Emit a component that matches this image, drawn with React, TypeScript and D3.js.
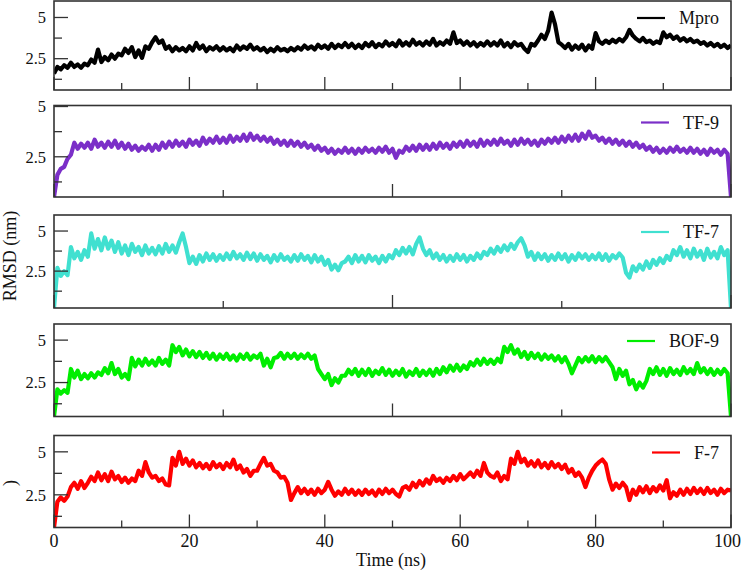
import React from "react";
import * as d3 from "d3";

// ---- data (RMSD, sampled every 0.5 ns from 0 to 100 ns) ----
const TIME_START = 0;
const TIME_END = 100;
const TIME_STEP = 0.5;

const SERIES_NAMES = ["Mpro", "TF-9", "TF-7", "BOF-9", "F-7"];
const SERIES_COLORS = ["#000000", "#7b2fc8", "#40e0d0", "#00ee00", "#ff0000"];

const MPRO = [
  1.6, 2.0, 1.85, 2.1, 1.95, 2.25, 2.0, 2.15, 1.95, 2.2,
  2.1, 2.45, 2.25, 3.05, 2.3, 2.6, 2.4, 2.75, 2.5, 2.8,
  2.7, 3.1, 2.85, 3.2, 2.6, 3.0, 2.55, 3.25, 3.1, 3.5,
  3.8, 3.45, 3.6, 3.1, 3.25, 2.95, 3.2, 3.0, 3.15, 2.95,
  3.25, 3.0, 3.45, 3.1, 3.3, 2.95, 3.2, 3.05, 3.25, 3.0,
  3.2, 3.0, 3.15, 2.95, 3.3, 3.05, 3.25, 3.1, 3.35, 3.05,
  3.2, 3.0, 3.15, 2.9, 3.1, 2.95, 3.2, 3.0, 3.1, 2.95,
  3.15, 3.0, 3.2, 3.05, 3.3, 3.1, 3.25, 3.05, 3.35, 3.15,
  3.3, 3.1, 3.4, 3.15, 3.35, 3.2, 3.45, 3.2, 3.4, 3.15,
  3.35, 3.15, 3.45, 3.25, 3.5, 3.2, 3.4, 3.25, 3.55, 3.3,
  3.45, 3.25, 3.6, 3.3, 3.5, 3.3, 3.65, 3.35, 3.5, 3.3,
  3.55, 3.35, 3.7, 3.3, 3.5, 3.35, 3.6, 3.4, 4.1, 3.45,
  3.6, 3.35, 3.55, 3.3, 3.5, 3.25, 3.45, 3.3, 3.55, 3.3,
  3.5, 3.3, 3.6, 3.25, 3.45, 3.2, 3.5, 3.3, 3.4, 3.1,
  2.9, 3.4, 3.3, 3.6, 3.95, 3.7, 4.2, 5.3, 4.6, 3.5,
  3.35, 3.15, 3.4, 3.05, 3.3, 3.1, 3.35, 3.0, 3.3, 3.1,
  4.05, 3.55, 3.4, 3.6, 3.45, 3.65, 3.5, 3.7, 3.55, 3.8,
  4.25, 3.9, 3.7, 3.55, 3.75, 3.5, 3.6, 3.4, 3.55, 3.45,
  4.1, 3.8, 3.95, 3.7, 3.85, 3.6, 3.75, 3.55, 3.7, 3.5,
  3.6, 3.4, 3.5, 3.3, 3.45, 3.25, 3.4, 3.2, 3.35, 3.15,
  3.3,
];

const TF9 = [
  0.5, 1.6, 1.9, 2.0, 2.4, 2.6, 3.2, 2.9, 3.15, 2.95,
  3.2, 2.9, 3.35, 3.0, 3.2, 2.95, 3.25, 3.0, 3.3, 2.95,
  3.2, 2.9, 3.15, 2.85, 3.05, 2.8, 3.0, 2.85, 3.1, 2.8,
  3.1, 2.85, 3.2, 2.95, 3.25, 3.0, 3.3, 3.05, 3.25, 3.0,
  3.35, 3.1, 3.3, 3.05, 3.45, 3.15, 3.4, 3.2, 3.5, 3.2,
  3.45, 3.2, 3.55, 3.25, 3.5, 3.3, 3.6, 3.3, 3.65, 3.35,
  3.55, 3.3, 3.5, 3.25, 3.45, 3.15, 3.35, 3.1, 3.3, 3.05,
  3.3, 3.05, 3.25, 3.0, 3.2, 2.95, 3.1, 2.85, 3.05, 2.8,
  2.95, 2.7, 2.9, 2.65, 2.85, 2.7, 2.95, 2.7, 2.9, 2.65,
  2.9, 2.7, 2.95, 2.75, 2.9, 2.7, 2.95, 2.75, 3.0, 2.7,
  2.9, 2.45, 2.8, 2.7, 3.0, 2.8, 3.05, 2.8, 3.1, 2.85,
  3.1, 2.85, 3.15, 2.9, 3.2, 2.95, 3.15, 2.9, 3.2, 3.0,
  3.25, 3.0, 3.3, 3.05, 3.25, 3.0, 3.35, 3.05, 3.3, 3.1,
  3.35, 3.1, 3.4, 3.15, 3.3, 3.05, 3.35, 3.1, 3.4, 3.15,
  3.35, 3.1, 3.3, 3.05, 3.35, 3.15, 3.4, 3.2, 3.45, 3.2,
  3.5, 3.25, 3.55, 3.3, 3.6, 3.3, 3.65, 3.4, 3.75, 3.45,
  3.55, 3.3, 3.45, 3.2, 3.4, 3.15, 3.35, 3.1, 3.3, 3.05,
  3.25, 3.0, 3.2, 2.95, 3.1, 2.85, 3.0, 2.75, 2.95, 2.7,
  2.9, 2.7, 2.95, 2.75, 3.0, 2.75, 2.9, 2.7, 2.95, 2.7,
  2.9, 2.65, 2.85, 2.6, 2.9, 2.7, 2.85, 2.6, 2.85, 2.65,
  0.5,
];

const TF7 = [
  0.2, 2.7, 2.2, 2.5, 2.25, 4.0, 3.3, 3.7, 3.2, 3.8,
  3.4, 4.85, 3.9, 4.5, 3.8, 4.6, 3.9, 4.4, 3.7, 4.3,
  3.6, 4.1, 3.5, 4.2, 3.7, 4.0, 3.5, 4.1, 3.6, 3.95,
  3.55, 4.05, 3.6, 4.2, 3.7, 4.1, 3.65, 4.3, 4.85, 4.0,
  3.0, 3.4, 2.95, 3.5, 3.1, 3.6, 3.2, 3.55, 3.15, 3.5,
  3.2, 3.6, 3.25, 3.7, 3.3, 3.55, 3.2, 3.65, 3.25, 3.6,
  3.15, 3.55, 3.2, 3.45, 3.05, 3.5, 3.15, 3.55, 3.2, 3.4,
  3.1, 3.5, 3.15, 3.55, 3.2, 3.45, 3.05, 3.5, 3.1, 3.4,
  2.9, 3.2, 2.6, 2.9, 2.55, 3.0, 3.1, 3.4, 3.0, 3.5,
  3.1, 3.45, 3.05, 3.5, 3.15, 3.4, 3.0, 3.45, 3.1, 3.5,
  3.3, 3.8, 3.5, 3.95, 3.6, 4.0, 3.55, 4.2, 4.6, 3.9,
  3.5, 3.8, 3.3, 3.6, 3.2, 3.5, 3.1, 3.45, 3.15, 3.55,
  3.2, 3.5, 3.1, 3.45, 3.2, 3.6, 3.3, 3.7, 3.5, 3.9,
  3.6, 4.0, 3.7, 4.1, 3.8, 4.2, 3.9, 4.3, 4.55, 4.1,
  3.4, 3.7, 3.2, 3.6, 3.25, 3.55, 3.15, 3.5, 3.2, 3.6,
  3.25, 3.55, 3.1, 3.5, 3.2, 3.6, 3.3, 3.55, 3.2, 3.5,
  3.25, 3.6, 3.2, 3.55, 3.15, 3.5, 3.3, 3.6, 3.35, 2.4,
  2.1, 2.8, 2.5, 2.9, 2.6, 3.1, 2.7, 3.2, 2.9, 3.3,
  3.0, 3.45, 3.2, 3.8, 3.5, 4.0, 3.4, 3.8, 3.3, 3.9,
  3.4, 3.75, 3.2, 3.9, 3.35, 3.7, 3.3, 4.0, 3.5, 3.8,
  0.2,
];

const BOF9 = [
  0.5, 2.1, 1.85, 2.05, 1.9, 3.3, 2.8, 3.2, 2.7, 3.0,
  2.75, 3.05, 2.8, 3.1, 2.95, 3.35, 3.05, 3.65, 3.0, 3.3,
  2.8, 3.0, 2.7, 3.95, 3.45, 3.85, 3.5, 3.9, 3.55, 3.8,
  3.5, 3.95, 3.6, 3.85, 3.5, 4.7, 4.3, 4.6, 4.1, 4.45,
  4.05, 4.35, 4.0, 4.3, 3.95, 4.25, 3.9, 4.2, 3.85, 4.15,
  3.9, 4.2, 3.85, 4.1, 3.8, 4.15, 3.9, 4.2, 3.85, 4.1,
  3.95, 4.2, 3.5, 3.9, 3.4, 3.95, 4.0, 4.25, 3.9, 4.2,
  3.95, 4.2, 3.9, 4.15, 3.95, 4.2, 3.9, 4.1, 3.3, 3.0,
  2.7, 3.0, 2.35, 2.75, 2.5, 2.9, 2.9, 3.25, 3.0, 3.3,
  2.9, 3.25, 2.95, 3.3, 2.9, 3.2, 3.0, 3.35, 2.95, 3.25,
  2.9, 3.2, 2.95, 3.3, 2.85, 3.15, 2.95, 3.3, 2.9, 3.2,
  2.95, 3.25, 2.9, 3.3, 3.0, 3.4, 3.1, 3.5, 3.2, 3.55,
  3.2, 3.5, 3.3, 3.7, 3.5, 3.85, 3.55, 3.9, 3.6, 3.85,
  3.6, 3.9, 3.7, 4.6, 4.3, 4.7, 4.2, 4.45, 4.0, 4.3,
  3.9, 4.25, 3.95, 4.2, 3.85, 4.15, 3.9, 4.1, 3.8, 4.05,
  3.7, 4.0, 3.6, 3.05, 3.5, 3.95, 3.7, 4.0, 3.75, 4.05,
  3.7, 4.0, 3.75, 4.0, 3.7, 3.4, 2.7, 3.3, 2.9, 3.2,
  2.4, 2.65, 2.1, 2.5, 2.2, 2.6, 3.3, 3.0, 3.4, 2.95,
  3.3, 2.9, 3.35, 3.0, 3.25, 2.95, 3.4, 3.05, 3.3, 3.0,
  3.65, 3.1, 3.35, 3.0, 3.3, 2.95, 3.25, 3.0, 3.3, 3.05,
  0.5,
];

const F7 = [
  0.6, 2.1, 2.35, 2.15, 2.4, 2.95, 3.2, 2.85, 3.3, 2.9,
  3.2, 3.55, 3.3, 3.8, 3.35, 3.7, 3.3, 3.85, 3.4, 3.6,
  3.25, 3.5, 3.2, 3.45, 3.3, 3.9, 3.6, 4.4, 3.8, 3.5,
  3.6, 3.3, 3.45, 3.1, 3.05, 4.65, 4.2, 5.0, 4.3, 4.6,
  4.2, 4.5, 4.1, 4.35, 4.05, 4.3, 4.0, 4.4, 4.1, 4.3,
  4.0, 4.35, 4.1, 4.55, 4.0, 4.2, 3.8, 4.0, 3.6, 3.9,
  3.9, 4.3, 4.65, 4.2, 4.3, 3.9, 3.8, 3.5, 3.55, 3.2,
  2.2, 2.6, 2.95, 2.6, 2.85, 2.55, 2.8, 2.5, 2.85, 2.6,
  2.8, 3.25, 2.8, 2.45, 2.7, 2.5, 2.85, 2.55, 2.8, 2.5,
  2.75, 2.5, 2.8, 2.55, 2.75, 2.45, 2.8, 2.55, 2.85, 2.6,
  2.8, 2.55, 2.4, 2.9, 3.0, 2.8, 3.2, 2.95, 3.3, 3.05,
  3.4, 3.15, 3.6, 3.3, 3.45, 3.2, 3.5, 3.3, 3.6, 3.35,
  3.7, 3.4, 3.6, 3.8, 3.55, 3.9, 3.6, 4.35, 3.8, 3.6,
  3.5, 3.8, 3.3, 3.6, 3.4, 4.6, 4.3, 5.0, 4.4, 4.6,
  4.2, 4.45, 4.15, 4.5, 4.1, 4.35, 4.05, 4.4, 4.1, 4.3,
  4.0, 4.25, 3.8, 4.0, 3.6, 3.8, 3.5, 2.95, 3.5, 3.9,
  4.2, 4.4, 4.55, 4.3, 3.4, 2.8, 3.15, 2.9, 3.2, 2.95,
  2.2, 2.8, 2.5, 2.95, 2.65, 3.0, 2.6, 2.95, 2.7, 3.05,
  2.75, 3.35, 2.3, 2.65, 2.45, 2.8, 2.5, 2.85, 2.55, 2.9,
  2.6, 2.85, 2.55, 2.9, 2.6, 2.8, 2.5, 2.85, 2.6, 2.8,
  2.75,
];

const SERIES_VALUES = [MPRO, TF9, TF7, BOF9, F7];

const Y_MAJOR_TICKS = [2.5, 5];
const Y_MINOR_TICKS = [1.25, 3.75];
const X_TICKS_FINE_MAJOR = [0, 20, 40, 60, 80, 100];
const X_TICKS_FINE_MINOR = [10, 30, 50, 70, 90];
const X_TICKS_COARSE_MAJOR = [0, 50, 100];
const X_TICKS_COARSE_MINOR = [25, 75];
const X_TICK_LABELS = ["0", "20", "40", "60", "80", "100"];

const X_TITLE = "Time (ns)";
const Y_TITLE = "RMSD (nm)";

// ---- layout (kept apart from the data) ----
const W = 742;
const H = 571;
const LEFT = 54;
const RIGHT = 731;
const PANELS = [
  { top: 1, bottom: 90, domain: [0.6, 6.0], fine: true },
  { top: 105.5, bottom: 197, domain: [0.5, 5.05], fine: false },
  { top: 215, bottom: 308, domain: [0.2, 6.0], fine: false },
  { top: 324, bottom: 416.5, domain: [0.5, 5.95], fine: false },
  { top: 435.5, bottom: 527.5, domain: [0.6, 5.95], fine: true },
];
const FONT = "'Liberation Serif', 'DejaVu Serif', serif";
const AXIS = "#333333";
const TXT: React.CSSProperties = { fontFamily: FONT, fontSize: 18 };
const TICK_TXT: React.CSSProperties = { fontFamily: FONT, fontSize: 16.5 };

function measure(text: string): number {
  try {
    const c = document.createElement("canvas").getContext("2d");
    if (c) {
      c.font = "18px 'Liberation Serif'";
      return c.measureText(text).width;
    }
  } catch (e) {}
  return text.length * 10;
}

export default function App() {
  const times = d3.range(TIME_START, TIME_END + TIME_STEP / 2, TIME_STEP);
  const x = d3.scaleLinear().domain([TIME_START, TIME_END]).range([LEFT, RIGHT]);

  return (
    <svg
      width={W}
      height={H}
      viewBox={`0 0 ${W} ${H}`}
      style={{ position: "absolute", left: 0, top: 0, background: "#fff", fontFamily: FONT }}
    >
      <rect x={0} y={0} width={W} height={H} fill="#fff" />
      {PANELS.map((p, i) => {
        const y = d3.scaleLinear().domain(p.domain).range([p.bottom, p.top]);
        const vals = SERIES_VALUES[i];
        const line = d3
          .line<number>()
          .x((_, k) => x(times[k]))
          .y((v) => y(v));
        const majors = p.fine ? X_TICKS_FINE_MAJOR : X_TICKS_COARSE_MAJOR;
        const minors = p.fine ? X_TICKS_FINE_MINOR : X_TICKS_COARSE_MINOR;
        const name = SERIES_NAMES[i];
        const tw = measure(name);
        const textX = 719 - tw;
        const ly = p.top + 17;
        const clipId = `clip${i}`;
        return (
          <g key={i}>
            <defs>
              <clipPath id={clipId}>
                <rect x={LEFT} y={p.top} width={RIGHT - LEFT} height={p.bottom - p.top} />
              </clipPath>
            </defs>
            <path
              d={line(vals) || ""}
              fill="none"
              stroke={SERIES_COLORS[i]}
              strokeWidth={4.2}
              strokeLinejoin="round"
              clipPath={`url(#${clipId})`}
            />
            {Y_MAJOR_TICKS.map((t) => (
              <g key={"ym" + t}>
                <line x1={LEFT} x2={LEFT + 14} y1={y(t)} y2={y(t)} stroke={AXIS} strokeWidth={1.3} />
                <text x={46} y={y(t)} dy="0.35em" textAnchor="end" style={TICK_TXT} fill="#111">
                  {String(t)}
                </text>
              </g>
            ))}
            {Y_MINOR_TICKS.map((t) => (
              <line key={"yn" + t} x1={LEFT} x2={LEFT + 8} y1={y(t)} y2={y(t)} stroke={AXIS} strokeWidth={1.3} />
            ))}
            {majors.map((t) => (
              <line key={"xm" + t} x1={x(t)} x2={x(t)} y1={p.bottom} y2={p.bottom - 13} stroke={AXIS} strokeWidth={1.3} />
            ))}
            {minors.map((t) => (
              <line key={"xn" + t} x1={x(t)} x2={x(t)} y1={p.bottom} y2={p.bottom - 7} stroke={AXIS} strokeWidth={1.3} />
            ))}
            <rect
              x={LEFT}
              y={p.top}
              width={RIGHT - LEFT}
              height={p.bottom - p.top}
              fill="none"
              stroke={AXIS}
              strokeWidth={1.6}
            />
            <line x1={textX - 42} x2={textX - 14} y1={ly} y2={ly} stroke={SERIES_COLORS[i]} strokeWidth={2.2} />
            <text x={textX} y={ly + 6} style={TXT} fill="#111">
              {name}
            </text>
          </g>
        );
      })}
      {X_TICKS_FINE_MAJOR.map((t, k) => {
        const label = X_TICK_LABELS[k];
        const half = measure(label) / 2;
        const cx = Math.min(x(t), W - 1 - half);
        return (
          <text key={"xl" + t} x={cx} y={547} textAnchor="middle" style={TXT} fill="#111">
            {label}
          </text>
        );
      })}
      <text x={391} y={566} textAnchor="middle" style={TXT} fill="#111">
        {X_TITLE}
      </text>
      <text transform={`translate(16,256) rotate(-90)`} textAnchor="middle" style={TXT} fill="#111">
        {Y_TITLE}
      </text>
      <text transform={`translate(16,483) rotate(-90)`} textAnchor="middle" style={TXT} fill="#111">
        )
      </text>
    </svg>
  );
}
